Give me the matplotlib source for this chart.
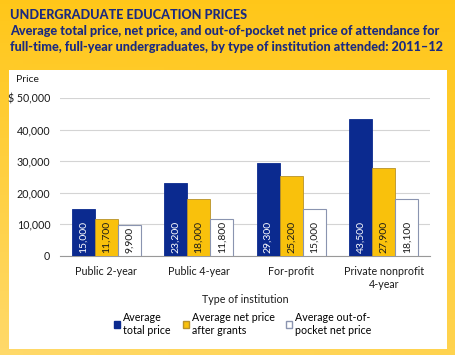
import numpy as np
import matplotlib
matplotlib.use("Agg")
import matplotlib.pyplot as plt
from matplotlib.patches import Rectangle, Patch

plt.rcParams['font.family'] = ['Lato', 'DejaVu Sans']

categories = ["Public 2-year", "Public 4-year", "For-profit", "Private nonprofit\n4-year"]
total_price = [15000, 23200, 29300, 43500]
net_price = [11700, 18000, 25200, 27900]
oop_price = [9900, 11800, 15000, 18100]
series_names = ["Average\ntotal price", "Average net price\nafter grants", "Average out-of-\npocket net price"]
yticks = [0, 10000, 20000, 30000, 40000, 50000]
ytick_labels = ["0", "10,000", "20,000", "30,000", "40,000", "$ 50,000"]

navy = "#1B2A80"
blue = "#0B2A8F"
gold = "#F9C10C"
ink = "#1A1A1A"
W, H = 455, 355

fig = plt.figure(figsize=(4.55, 3.55), dpi=100)

# yellow backdrop with a soft gradient
bg = fig.add_axes([0, 0, 1, 1])
yy, xx = np.mgrid[0:1:100j, 0:1:100j]
t = np.clip(0.6 * yy + 0.3 * (1 - xx) * yy, 0, 1)
top = np.array([1.0, 0.78, 0.1])
bot = np.array([1.0, 0.86, 0.45])
img = top[None, None, :] * (1 - t[..., None]) + bot[None, None, :] * t[..., None]
bg.imshow(img, extent=[0, 1, 1, 0], aspect="auto")
bg.set_xlim(0, 1)
bg.set_ylim(1, 0)
bg.axis("off")
# white panel
bg.add_patch(Rectangle((9 / W, 70 / H), 438 / W, 279 / H, facecolor="white", edgecolor="none"))

fs_title = 9.1
fig.text(10 / W, 1 - 15 / H, "UNDERGRADUATE EDUCATION PRICES", color=navy,
         fontsize=fs_title, fontweight="black", va="center")
fig.text(10 / W, 1 - 31 / H, "Average total price, net price, and out-of-pocket net price of attendance for",
         color=navy, fontsize=fs_title, fontweight="black", va="center")
fig.text(10 / W, 1 - 47 / H, "full-time, full-year undergraduates, by type of institution attended: 2011\u201312",
         color=navy, fontsize=fs_title, fontweight="black", va="center")

ax = fig.add_axes([60 / W, 1 - 256 / H, 370 / W, 158 / H])
x = np.arange(len(categories))
w = 0.25
b1 = ax.bar(x - w, total_price, w, color=blue, edgecolor=blue, linewidth=0.6, zorder=3)
b2 = ax.bar(x, net_price, w, color=gold, edgecolor="#B8922A", linewidth=0.6, zorder=3)
b3 = ax.bar(x + w, oop_price, w, color="white", edgecolor="#8A94B0", linewidth=0.8, zorder=3)

for bars, vals, col in [(b1, total_price, "white"), (b2, net_price, ink), (b3, oop_price, ink)]:
    for b, v in zip(bars, vals):
        ax.text(b.get_x() + b.get_width() / 2, 1000, f"{v:,}", rotation=90, ha="center", va="bottom",
                color=col, fontsize=7.5, zorder=4)

ax.set_xlim(-0.5, 3.5)
ax.set_ylim(0, 50000)
ax.set_yticks(yticks)
ax.set_yticklabels(ytick_labels, fontsize=7.7, color=ink)
ax.set_xticks(x)
ax.set_xticklabels(categories, fontsize=7.7, color=ink, linespacing=1.2)
ax.tick_params(length=0, pad=7)
ax.grid(axis="y", color="#D4D4D4", linewidth=0.8, zorder=0)
for s in ["top", "right", "left"]:
    ax.spines[s].set_visible(False)
ax.spines["bottom"].set_color("#999999")
ax.spines["bottom"].set_linewidth(0.8)
ax.set_xlabel("Type of institution", fontsize=7.7, color=ink, labelpad=3)

fig.text(16 / W, 1 - 80 / H, "Price", fontsize=7.5, color=ink, va="center")

handles = [Patch(facecolor=blue, edgecolor=blue),
           Patch(facecolor=gold, edgecolor="#B8922A"),
           Patch(facecolor="white", edgecolor="#8A94B0")]
fig.legend(handles, series_names, loc="center", bbox_to_anchor=(243 / W, 1 - 324 / H), ncol=3,
           frameon=False, fontsize=7.7, handlelength=0.55, handleheight=0.55, handletextpad=0.3,
           columnspacing=1.1, borderaxespad=0, labelspacing=0.2)

fig.savefig("out.png", dpi=100)
